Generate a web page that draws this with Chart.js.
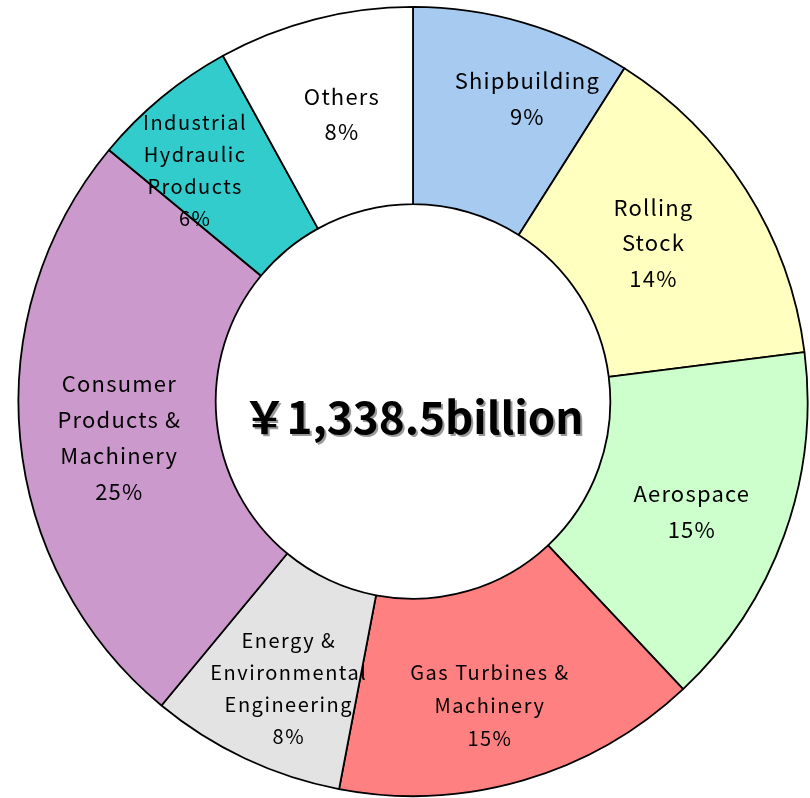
<!DOCTYPE html>
<html>
<head>
<meta charset="utf-8">
<script src="https://cdn.jsdelivr.net/npm/chart.js@4/dist/chart.umd.min.js"></script>
<style>
  html, body { margin: 0; padding: 0; background: #fff; }
  #wrap { width: 810px; height: 798px; }
</style>
</head>
<body>
<div id="wrap"><canvas id="salesChart"></canvas></div>
<script>
// セグメント別売上構成
const segments = [
    ['Shipbuilding'],
    ['Rolling', 'Stock'],
    ['Aerospace'],
    ['Gas Turbines &', 'Machinery'],
    ['Energy &', 'Environmental', 'Engineering'],
    ['Consumer', 'Products &', 'Machinery'],
    ['Industrial', 'Hydraulic', 'Products'],
    ['Others']
];
const shares = [9, 14, 15, 15, 8, 25, 6, 8];
const colors = ['#A6CAF0', '#FFFFC0', '#CCFFCC', '#FF8080', '#E3E3E3', '#CC99CC', '#33CCCC', '#FFFFFF'];
const totalText = '￥1,338.5billion';

// ラベル位置の微調整（半径の割合, 角度のずれ(度), フォントサイズ, 行間）
const labelTweak = [
    { r: 0.64, da: 4.5, size: 22, lh: 36 },
    { r: 0.46, da: -1, size: 22, lh: 35.5 },
    { r: 0.52, da: 1.8, size: 22, lh: 36 },
    { r: 0.59, da: 2, size: 20, lh: 33 },
    { r: 0.585, da: -1.8, size: 20, lh: 32 },
    { r: 0.50, da: -1.7, size: 22, lh: 36 },
    { r: 0.61, da: -3.7, size: 20, lh: 32 },
    { r: 0.50, da: 0.5, size: 22, lh: 35 }
];

const FONT = '"Noto Sans CJK JP", "Noto Sans", sans-serif';

// 各セグメントのラベルと中央の合計額を描く
const labelPlugin = {
    id: 'segmentLabels',
    afterDatasetsDraw(chart) {
        const ctx = chart.ctx;
        const arcs = chart.getDatasetMeta(0).data;
        ctx.save();
        ctx.fillStyle = '#000';
        ctx.textAlign = 'center';
        ctx.textBaseline = 'middle';
        arcs.forEach((arc, i) => {
            const t = labelTweak[i];
            const mid = (arc.startAngle + arc.endAngle) / 2 + t.da * Math.PI / 180;
            const r = arc.innerRadius + (arc.outerRadius - arc.innerRadius) * t.r;
            const x = arc.x + Math.cos(mid) * r;
            const y = arc.y + Math.sin(mid) * r;
            const lines = segments[i].concat([shares[i] + '%']);
            const top = y - (lines.length - 1) * t.lh / 2;
            ctx.font = t.size + 'px ' + FONT;
            ctx.letterSpacing = (t.size === 22 ? 1.2 : 1.5) + 'px';
            lines.forEach((line, j) => ctx.fillText(line, x, top + j * t.lh));
        });

        // 中央の合計（影付き）
        const c = arcs[0];
        ctx.letterSpacing = '0px';
        ctx.font = 'bold 44px ' + FONT;
        ctx.fillStyle = '#9a9a9a';
        ctx.fillText(totalText, c.x + 2, c.y + 18);
        ctx.fillStyle = '#000';
        ctx.fillText(totalText, c.x, c.y + 16);
        ctx.restore();
    }
};

new Chart(document.getElementById('salesChart'), {
    type: 'doughnut',
    data: {
        labels: segments.map(s => s.join(' ')),
        datasets: [{
            data: shares,
            backgroundColor: colors,
            borderColor: '#000',
            borderWidth: 1.8,
            borderAlign: 'center'
        }]
    },
    options: {
        responsive: true,
        maintainAspectRatio: false,
        animation: false,
        cutout: '50%',
        layout: { padding: { left: 17, right: 1, top: 6, bottom: 1 } },
        plugins: {
            legend: { display: false },
            tooltip: { enabled: false }
        }
    },
    plugins: [labelPlugin]
});
</script>
</body>
</html>
